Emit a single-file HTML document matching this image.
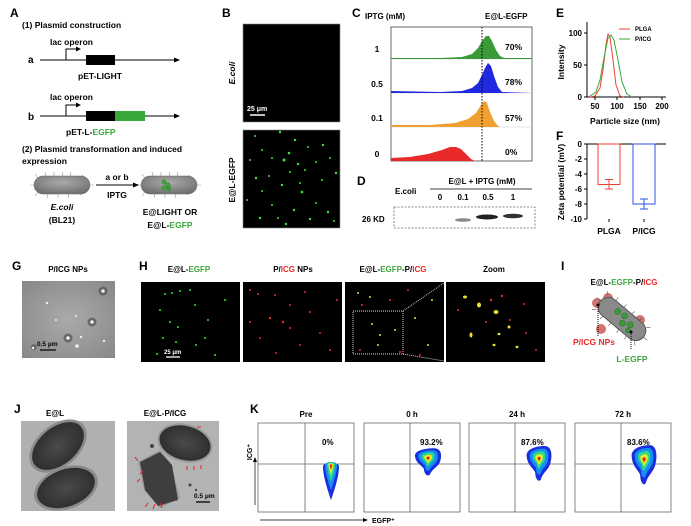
<!DOCTYPE html>
<html><head><meta charset="utf-8"><style>
html,body{margin:0;padding:0;background:#fff}
svg{display:block;font-family:"Liberation Sans",Arial,sans-serif;font-weight:bold}
</style></head><body>
<svg width="691" height="526" viewBox="0 0 691 526" xmlns="http://www.w3.org/2000/svg">
<defs>
<radialGradient id="bac" cx="50%" cy="35%" r="70%"><stop offset="0" stop-color="#aaa"/><stop offset="1" stop-color="#6d6d6d"/></radialGradient>
<radialGradient id="tem" cx="50%" cy="50%" r="70%"><stop offset="0" stop-color="#aaa"/><stop offset="1" stop-color="#888"/></radialGradient>
<radialGradient id="cell" cx="50%" cy="50%" r="60%"><stop offset="0" stop-color="#4a4a4a"/><stop offset="1" stop-color="#2a2a2a"/></radialGradient>
<path id="tear" d="M-8,-10 C-8,-15 8,-15 8,-10 C8,-2 5,8 0,22 C-5,8 -8,-2 -8,-10Z"/>
<g id="bt"><use href="#tear" fill="#1a30e0"/><use href="#tear" fill="#1490f0" transform="translate(0,-4) scale(0.75)"/><use href="#tear" fill="#30d890" transform="translate(0,-7) scale(0.5)"/><use href="#tear" fill="#f0f020" transform="translate(0,-9) scale(0.3)"/><use href="#tear" fill="#e02020" transform="translate(0,-10) scale(0.15)"/></g>
<path id="wide" d="M-13,-4 C-14,-10 -4,-13 6,-13 C14,-13 14,-4 12,2 C10,8 4,10 2,16 C0,19 -4,16 -4,10 C-6,6 -12,4 -13,-4Z"/>
<g id="bw"><use href="#wide" fill="#1a30e0"/><use href="#wide" fill="#1490f0" transform="translate(0,-1) scale(0.75)"/><use href="#wide" fill="#30d890" transform="translate(0,-2) scale(0.5)"/><use href="#wide" fill="#f0f020" transform="translate(0,-2) scale(0.3)"/><use href="#wide" fill="#e02020" transform="translate(0,-2) scale(0.13)"/></g>
</defs>

<!-- A -->
<text x="10" y="17" font-size="12">A</text>
<text x="22" y="28" font-size="8.5">(1) Plasmid construction</text>
<text x="50" y="45" font-size="8.5">lac operon</text>
<text x="28" y="63" font-size="10">a</text>
<line x1="40" y1="60" x2="176" y2="60" stroke="#000" stroke-width="1"/><polygon points="180,60 174,57.5 174,62.5"/>
<path d="M66 60 V49 H78" fill="none" stroke="#000"/><polygon points="81,49 76,46.5 76,51.5"/>
<rect x="86" y="55" width="29" height="10"/>
<text x="100" y="79" font-size="8.5" text-anchor="middle">pET-LIGHT</text>
<text x="50" y="100" font-size="8.5">lac operon</text>
<text x="28" y="120" font-size="10">b</text>
<line x1="40" y1="116" x2="176" y2="116" stroke="#000"/><polygon points="180,116 174,113.5 174,118.5"/>
<path d="M66 116 V105 H78" fill="none" stroke="#000"/><polygon points="81,105 76,102.5 76,107.5"/>
<rect x="86" y="111" width="29" height="10"/><rect x="115" y="111" width="30" height="10" fill="#3aa83a"/>
<text x="66" y="135" font-size="8.5">pET-L-<tspan fill="#3aa83a">EGFP</tspan></text>
<text x="22" y="152" font-size="8.5">(2) Plasmid transformation and induced</text>
<text x="22" y="164" font-size="8.5">expression</text>
<g stroke="#999" stroke-width="0.6">
<path d="M38 178l-3-4M46 176l-1-4M54 176l0-4M62 176l1-4M70 176l1-4M80 178l3-3M38 192l-3 4M48 194l-1 4M58 194l0 4M68 194l1 4M78 192l3 3M34 185h-4M90 185h4"/>
<path d="M145 178l-3-4M153 176l-1-4M161 176l0-4M169 176l1-4M177 176l1-4M187 178l3-3M145 192l-3 4M155 194l-1 4M165 194l0 4M175 194l1 4M185 192l3 3M141 185h-4M197 185h4"/>
</g>
<rect x="34" y="176" width="56" height="18" rx="9" fill="url(#bac)" stroke="#666" stroke-width="0.5"/>
<rect x="141" y="176" width="56" height="18" rx="9" fill="url(#bac)" stroke="#666" stroke-width="0.5"/>
<g fill="#3aa83a" stroke="#1f6f1f" stroke-width="0.4"><circle cx="164" cy="182" r="2.2"/><circle cx="168" cy="185" r="2.2"/><circle cx="164" cy="188" r="2.2"/><circle cx="169" cy="189" r="2"/></g>
<line x1="96" y1="185" x2="135" y2="185" stroke="#000"/><polygon points="139,185 133,182.5 133,187.5"/>
<text x="117" y="180" font-size="8.5" text-anchor="middle">a or b</text>
<text x="117" y="198" font-size="8.5" text-anchor="middle">IPTG</text>
<text x="62" y="210" font-size="8.5" text-anchor="middle" font-style="italic">E.coli</text>
<text x="62" y="223" font-size="8.5" text-anchor="middle">(BL21)</text>
<text x="170" y="215" font-size="8.5" text-anchor="middle">E@LIGHT OR</text>
<text x="170" y="228" font-size="8.5" text-anchor="middle">E@L-<tspan fill="#3aa83a">EGFP</tspan></text>

<!-- B -->
<text x="222" y="17" font-size="12">B</text>
<rect x="243" y="24" width="97" height="98" fill="#000" stroke="#888" stroke-width="0.6"/>
<rect x="243" y="130" width="97" height="98" fill="#000" stroke="#888" stroke-width="0.6"/>
<line x1="250" y1="115" x2="265" y2="115" stroke="#fff" stroke-width="1.5"/>
<text x="247" y="111" font-size="7" fill="#fff">25 μm</text>
<text transform="translate(235,73) rotate(-90)" font-size="8.5" text-anchor="middle" font-style="italic">E.coli</text>
<text transform="translate(235,180) rotate(-90)" font-size="8.5" text-anchor="middle">E@L-EGFP</text>
<g fill="#3ee03e">
<circle cx="255" cy="136" r="1"/><circle cx="280" cy="132" r="1.2"/><circle cx="295" cy="140" r="1.2"/><circle cx="323" cy="145" r="1.2"/><circle cx="308" cy="147" r="1"/><circle cx="262" cy="150" r="1"/><circle cx="289" cy="153" r="1.3"/><circle cx="284" cy="160" r="1.5"/><circle cx="298" cy="164" r="1.2"/><circle cx="272" cy="158" r="1"/><circle cx="316" cy="162" r="1"/><circle cx="330" cy="158" r="1"/><circle cx="336" cy="173" r="1.2"/><circle cx="305" cy="170" r="1"/><circle cx="256" cy="178" r="1.2"/><circle cx="269" cy="176" r="1"/><circle cx="282" cy="185" r="1.2"/><circle cx="302" cy="192" r="1.3"/><circle cx="322" cy="180" r="1"/><circle cx="262" cy="191" r="1"/><circle cx="290" cy="172" r="1"/><circle cx="247" cy="200" r="1"/><circle cx="272" cy="205" r="1"/><circle cx="294" cy="210" r="1.2"/><circle cx="310" cy="219" r="1.2"/><circle cx="328" cy="212" r="1.2"/><circle cx="334" cy="221" r="1"/><circle cx="260" cy="218" r="1.2"/><circle cx="286" cy="224" r="1.2"/><circle cx="316" cy="203" r="1"/><circle cx="278" cy="218" r="1"/><circle cx="300" cy="183" r="1"/><circle cx="250" cy="160" r="1"/>
</g>

<!-- C -->
<text x="352" y="17" font-size="12">C</text>
<text x="365" y="19" font-size="8">IPTG (mM)</text>
<text x="485" y="19" font-size="8">E@L-EGFP</text>
<rect x="391" y="27" width="141" height="134" fill="#fff" stroke="#444" stroke-width="0.8"/>
<line x1="391" y1="59" x2="532" y2="59" stroke="#ccc" stroke-width="0.5"/>
<line x1="391" y1="93" x2="532" y2="93" stroke="#ccc" stroke-width="0.5"/>
<line x1="391" y1="127" x2="532" y2="127" stroke="#ccc" stroke-width="0.5"/>
<path d="M391 59 L391 58 L440 58 L462 57 L472 54 L478 48 L482 41 L486 36 L489 36 L492 41 L496 50 L500 56 L504 58 L532 58 L532 59Z" fill="#3a9a3a"/>
<path d="M391 93 L391 91 L440 92 L462 91 L472 88 L478 83 L482 75 L485 68 L488 63 L491 66 L494 76 L498 87 L502 92 L532 93Z" fill="#2028e0"/>
<path d="M391 127 L391 125 L430 125 L455 123 L468 119 L476 113 L481 105 L484 101 L487 103 L490 112 L494 121 L498 126 L500 127Z" fill="#f0a030"/>
<path d="M391 161 L391 158 L410 157 L428 154 L442 150 L450 147 L456 147 L461 149 L466 154 L471 159 L475 161Z" fill="#e82a2a"/>
<line x1="482" y1="27" x2="482" y2="161" stroke="#000" stroke-dasharray="1.5,1.5"/>
<g font-size="8.5"><text x="377" y="52" text-anchor="middle">1</text><text x="377" y="87" text-anchor="middle">0.5</text><text x="377" y="121" text-anchor="middle">0.1</text><text x="377" y="157" text-anchor="middle">0</text>
<text x="505" y="50">70%</text><text x="505" y="85">78%</text><text x="505" y="121">57%</text><text x="505" y="155">0%</text></g>

<!-- D -->
<text x="357" y="185" font-size="12">D</text>
<text x="395" y="194" font-size="8">E.coli</text>
<text x="482" y="184" font-size="8" text-anchor="middle">E@L + IPTG (mM)</text>
<line x1="430" y1="189" x2="532" y2="189" stroke="#000" stroke-width="0.7"/>
<g font-size="8" text-anchor="middle"><text x="440" y="200">0</text><text x="463" y="200">0.1</text><text x="488" y="200">0.5</text><text x="513" y="200">1</text></g>
<text x="362" y="222" font-size="8">26 KD</text>
<rect x="394" y="207" width="141" height="21" fill="none" stroke="#667" stroke-dasharray="2,1.5" stroke-width="0.8"/>
<ellipse cx="463" cy="220" rx="8" ry="1.8" fill="#555" opacity="0.7"/>
<ellipse cx="487" cy="217" rx="11" ry="2.5" fill="#222"/>
<ellipse cx="513" cy="216" rx="10" ry="2.3" fill="#333"/>

<!-- E -->
<text x="556" y="17" font-size="12">E</text>
<line x1="587" y1="22" x2="587" y2="97" stroke="#000"/><line x1="587" y1="97" x2="666" y2="97" stroke="#000"/>
<g stroke="#000"><line x1="584" y1="33" x2="587" y2="33"/><line x1="584" y1="65" x2="587" y2="65"/><line x1="584" y1="97" x2="587" y2="97"/>
<line x1="595" y1="97" x2="595" y2="100"/><line x1="617" y1="97" x2="617" y2="100"/><line x1="640" y1="97" x2="640" y2="100"/><line x1="662" y1="97" x2="662" y2="100"/></g>
<g font-size="8" text-anchor="end"><text x="582" y="36">100</text><text x="582" y="68">50</text><text x="582" y="100">0</text></g>
<g font-size="8" text-anchor="middle"><text x="595" y="109">50</text><text x="617" y="109">100</text><text x="640" y="109">150</text><text x="662" y="109">200</text></g>
<text x="625" y="124" font-size="8.5" text-anchor="middle">Particle size (nm)</text>
<text transform="translate(564,62) rotate(-90)" font-size="8.5" text-anchor="middle">Intensity</text>
<path d="M590 97 L595 96 L600 88 L603 70 L606 45 L608 34 L610 37 L613 60 L616 85 L620 96 L624 97" fill="none" stroke="#f04030" stroke-width="1"/>
<path d="M590 96 L596 92 L600 80 L604 58 L608 38 L611 35 L614 40 L618 60 L622 82 L627 94 L632 97" fill="none" stroke="#3aa83a" stroke-width="1"/>
<line x1="619" y1="29" x2="630" y2="29" stroke="#f04030"/><line x1="619" y1="39" x2="630" y2="39" stroke="#3aa83a"/>
<text x="635" y="31" font-size="6">PLGA</text><text x="635" y="41" font-size="6">P/ICG</text>

<!-- F -->
<text x="556" y="140" font-size="12">F</text>
<line x1="587" y1="144" x2="587" y2="219" stroke="#000"/>
<line x1="587" y1="144" x2="666" y2="144" stroke="#000"/>
<g stroke="#000"><line x1="584" y1="144" x2="587" y2="144"/><line x1="584" y1="159" x2="587" y2="159"/><line x1="584" y1="174" x2="587" y2="174"/><line x1="584" y1="189" x2="587" y2="189"/><line x1="584" y1="204" x2="587" y2="204"/><line x1="584" y1="219" x2="587" y2="219"/><line x1="609" y1="219" x2="609" y2="222"/><line x1="644" y1="219" x2="644" y2="222"/></g>
<g font-size="8" text-anchor="end"><text x="582" y="147">0</text><text x="582" y="162">-2</text><text x="582" y="177">-4</text><text x="582" y="192">-6</text><text x="582" y="207">-8</text><text x="582" y="222">-10</text></g>
<rect x="598" y="144" width="22" height="40.5" fill="none" stroke="#f04030" stroke-width="1"/>
<path d="M609 184.5 V189 M605 189 H613 M609 184.5 V179.5 M605 179.5 H613" stroke="#f04030"/>
<rect x="633" y="144" width="22" height="60" fill="none" stroke="#3050f0" stroke-width="1"/>
<path d="M644 204 V209 M640 209 H648 M644 204 V199 M640 199 H648" stroke="#3050f0"/>
<g font-size="8.5" text-anchor="middle"><text x="609" y="234">PLGA</text><text x="644" y="234">P/ICG</text></g>
<text transform="translate(564,182) rotate(-90)" font-size="8.5" text-anchor="middle">Zeta potential (mV)</text>

<!-- G -->
<text x="12" y="270" font-size="12">G</text>
<text x="68" y="272" font-size="8" text-anchor="middle">P/ICG NPs</text>
<rect x="22" y="281" width="93" height="77" fill="url(#tem)"/>
<g fill="#444"><circle cx="103" cy="291" r="4.5" opacity="0.6"/><circle cx="92" cy="322" r="4.5" opacity="0.6"/><circle cx="34" cy="347" r="3" opacity="0.5"/><circle cx="68" cy="338" r="4.5" opacity="0.6"/></g>
<g fill="#eee"><circle cx="103" cy="291" r="1.8"/><circle cx="47" cy="303" r="1.2"/><circle cx="92" cy="322" r="1.8"/><circle cx="68" cy="338" r="1.8"/><circle cx="77" cy="346" r="1.8"/><circle cx="56" cy="320" r="1"/><circle cx="81" cy="337" r="1.2"/><circle cx="104" cy="341" r="1.2"/><circle cx="33" cy="348" r="1.2"/><circle cx="76" cy="316" r="1"/></g>
<line x1="40" y1="350" x2="56" y2="350" stroke="#000" stroke-width="1.2"/>
<text x="37" y="346" font-size="6.5">0.5 μm</text>

<!-- H -->
<text x="139" y="270" font-size="12">H</text>
<g font-size="8" text-anchor="middle"><text x="189" y="272">E@L-<tspan fill="#3aa83a">EGFP</tspan></text>
<text x="293" y="272">P/<tspan fill="#e82a2a">ICG</tspan> NPs</text>
<text x="393" y="272">E@L-<tspan fill="#3aa83a">EGFP</tspan>-P/<tspan fill="#e82a2a">ICG</tspan></text>
<text x="494" y="272">Zoom</text></g>
<rect x="141" y="282" width="99" height="80" fill="#000"/>
<rect x="243" y="282" width="99" height="80" fill="#000"/>
<rect x="345" y="282" width="99" height="80" fill="#000"/>
<rect x="446" y="282" width="99" height="80" fill="#000"/>
<g fill="#3ee03e"><circle cx="165" cy="294" r="1"/><circle cx="172" cy="293" r="1"/><circle cx="180" cy="291" r="1"/><circle cx="160" cy="310" r="1"/><circle cx="195" cy="305" r="1"/><circle cx="208" cy="320" r="1"/><circle cx="170" cy="322" r="1"/><circle cx="178" cy="327" r="1"/><circle cx="163" cy="338" r="1"/><circle cx="176" cy="342" r="1"/><circle cx="196" cy="345" r="1"/><circle cx="215" cy="355" r="1"/><circle cx="157" cy="354" r="1"/><circle cx="225" cy="300" r="1"/><circle cx="190" cy="290" r="1"/><circle cx="205" cy="338" r="1"/></g>
<line x1="166" y1="357" x2="180" y2="357" stroke="#fff" stroke-width="1.3"/><text x="164" y="354" font-size="6" fill="#fff">25 μm</text>
<g fill="#e82a2a"><circle cx="250" cy="290" r="1"/><circle cx="258" cy="294" r="1"/><circle cx="275" cy="295" r="1"/><circle cx="290" cy="305" r="1"/><circle cx="270" cy="318" r="1.2"/><circle cx="283" cy="322" r="1.2"/><circle cx="290" cy="328" r="1"/><circle cx="310" cy="312" r="1"/><circle cx="320" cy="333" r="1"/><circle cx="260" cy="338" r="1"/><circle cx="300" cy="345" r="1"/><circle cx="330" cy="350" r="1"/><circle cx="276" cy="353" r="1"/><circle cx="337" cy="300" r="1"/><circle cx="250" cy="322" r="1"/><circle cx="305" cy="292" r="1"/></g>
<g fill="#e0e030"><circle cx="358" cy="293" r="1"/><circle cx="370" cy="297" r="1"/><circle cx="372" cy="324" r="1"/><circle cx="380" cy="335" r="1"/><circle cx="395" cy="330" r="1"/><circle cx="378" cy="345" r="1"/><circle cx="415" cy="318" r="1"/><circle cx="428" cy="345" r="1"/><circle cx="432" cy="300" r="1"/></g>
<g fill="#e82a2a"><circle cx="362" cy="305" r="1"/><circle cx="390" cy="300" r="1"/><circle cx="408" cy="290" r="1"/><circle cx="420" cy="355" r="1"/><circle cx="360" cy="350" r="1"/><circle cx="400" cy="352" r="1"/></g>
<rect x="353" y="311" width="50" height="43" fill="none" stroke="#ddd" stroke-dasharray="1,1"/>
<line x1="403" y1="311" x2="444" y2="283" stroke="#ccc" stroke-dasharray="1,1"/><line x1="403" y1="354" x2="444" y2="361" stroke="#ccc" stroke-dasharray="1,1"/>
<g fill="#e8e030"><ellipse cx="465" cy="297" rx="2" ry="1.5"/><ellipse cx="479" cy="305" rx="2" ry="2.5"/><ellipse cx="496" cy="312" rx="2.5" ry="2"/><ellipse cx="471" cy="335" rx="1.5" ry="2.5"/><ellipse cx="499" cy="334" rx="1.5" ry="1.2"/><ellipse cx="509" cy="327" rx="1.5" ry="1.5"/><ellipse cx="517" cy="347" rx="1.5" ry="1.2"/><ellipse cx="494" cy="345" rx="1.5" ry="1.2"/></g>
<g fill="#e82a2a"><circle cx="491" cy="300" r="1.2"/><circle cx="502" cy="296" r="1.2"/><circle cx="510" cy="320" r="1"/><circle cx="526" cy="333" r="1"/><circle cx="524" cy="304" r="1"/><circle cx="458" cy="310" r="1"/><circle cx="486" cy="322" r="1"/><circle cx="536" cy="350" r="1"/></g>

<!-- I -->
<text x="561" y="270" font-size="12">I</text>
<text x="624" y="285" font-size="8" text-anchor="middle">E@L-<tspan fill="#3aa83a">EGFP</tspan>-P/<tspan fill="#e82a2a">ICG</tspan></text>
<g fill="#c85050" opacity="0.8"><circle cx="597" cy="303" r="5"/><circle cx="608" cy="298" r="5"/><circle cx="640" cy="320" r="5"/><circle cx="601" cy="329" r="5"/></g>
<g transform="translate(622,319) rotate(40)">
<g stroke="#555" stroke-width="0.6"><path d="M-26 -9l-3-3M-16 -10l-1-4M-6 -10l0-4M4 -10l1-4M14 -10l1-4M24 -9l3-3M-26 9l-3 3M-16 10l-1 4M-6 10l0 4M4 10l1 4M14 10l1 4M24 9l3 3M28 0h5M-28 0h-5"/></g>
<rect x="-28" y="-10" width="56" height="20" rx="10" fill="#8a8a8a" stroke="#555"/>
<g fill="#3a9a3a" stroke="#1f6f1f" stroke-width="0.5"><circle cx="-8" cy="-3" r="3"/><circle cx="0" cy="-4" r="3"/><circle cx="3" cy="3" r="3"/><circle cx="10" cy="-1" r="3"/><circle cx="12" cy="5" r="2.5"/></g>
</g>
<line x1="598" y1="305" x2="598" y2="337" stroke="#000" stroke-dasharray="1,1"/><circle cx="598" cy="305" r="1.5"/>
<line x1="631" y1="332" x2="631" y2="350" stroke="#000" stroke-dasharray="1,1"/><circle cx="631" cy="332" r="1.5"/>
<text x="594" y="345" font-size="8.5" fill="#e82a2a" text-anchor="middle">P/ICG NPs</text>
<text x="632" y="362" font-size="8.5" fill="#3aa83a" text-anchor="middle">L-EGFP</text>

<!-- J -->
<text x="14" y="413" font-size="12">J</text>
<text x="55" y="416" font-size="8" text-anchor="middle">E@L</text>
<text x="165" y="416" font-size="8" text-anchor="middle">E@L-P/ICG</text>
<rect x="21" y="421" width="94" height="90" fill="#b0b0b0"/>
<ellipse cx="58" cy="446" rx="33" ry="21" transform="rotate(-40 58 446)" fill="#8a8a8a"/>
<ellipse cx="58" cy="446" rx="30" ry="18.5" transform="rotate(-40 58 446)" fill="url(#cell)"/>
<ellipse cx="66" cy="488" rx="33" ry="21" transform="rotate(-20 66 488)" fill="#8a8a8a"/>
<ellipse cx="66" cy="488" rx="30" ry="18.5" transform="rotate(-20 66 488)" fill="url(#cell)"/>
<rect x="127" y="421" width="92" height="90" fill="#b3b3b3"/>
<ellipse cx="185" cy="443" rx="28" ry="19" transform="rotate(15 185 443)" fill="#999"/>
<ellipse cx="185" cy="443" rx="26" ry="17" transform="rotate(15 185 443)" fill="url(#cell)"/>
<path d="M138 462 L160 450 L170 462 L180 498 L160 508 L144 490Z" fill="#9a9a9a"/>
<path d="M140 462 L160 452 L172 465 L178 500 L158 506 L145 490Z" fill="#3e3e3e"/>
<g fill="#444"><circle cx="190" cy="485" r="1.5"/><circle cx="196" cy="490" r="1.2"/><circle cx="152" cy="446" r="2"/></g>
<g stroke="#e82020" stroke-width="1"><path d="M135 457l3 4M140 474l3-3M137 482l3-3M145 507l3-4M153 509l2-5M160 503l2 5M187 470v-4M194 470v-4M201 469v-4M201 427h-4"/></g>
<line x1="196" y1="502" x2="210" y2="502" stroke="#000" stroke-width="1.3"/><text x="194" y="498" font-size="6.5">0.5 μm</text>

<!-- K -->
<text x="250" y="413" font-size="12">K</text>
<g font-size="8" text-anchor="middle"><text x="306" y="417">Pre</text><text x="412" y="417">0 h</text><text x="517" y="417">24 h</text><text x="623" y="417">72 h</text></g>
<g fill="none" stroke="#666" stroke-width="0.8">
<rect x="258" y="423" width="96" height="89"/><rect x="364" y="423" width="96" height="89"/><rect x="469" y="423" width="96" height="89"/><rect x="575" y="423" width="96" height="89"/>
<path d="M305 423V512M258 464H354M410 423V512M364 464H460M515 423V512M469 464H565M621 423V512M575 464H671"/>
</g>
<g font-size="8"><text x="322" y="445">0%</text><text x="420" y="445">93.2%</text><text x="521" y="445">87.6%</text><text x="627" y="445">83.6%</text></g>
<g transform="translate(331,477) scale(1,1.05)"><use href="#bt"/></g>
<g transform="translate(428,460) scale(1,0.9)"><use href="#bw"/></g>
<g transform="translate(539,461) scale(0.95,1.15)"><use href="#bw"/></g>
<g transform="translate(644,462) scale(0.95,1.3)"><use href="#bw"/></g>
<line x1="255" y1="505" x2="255" y2="460" stroke="#000" stroke-width="0.7"/><polygon points="255,457 253,462 257,462"/>
<text transform="translate(252,452) rotate(-90)" font-size="7" text-anchor="middle">ICG⁺</text>
<line x1="260" y1="520" x2="364" y2="520" stroke="#000" stroke-width="0.7"/><polygon points="368,520 363,518 363,522"/>
<text x="372" y="523" font-size="7">EGFP⁺</text>
</svg>
</body></html>
